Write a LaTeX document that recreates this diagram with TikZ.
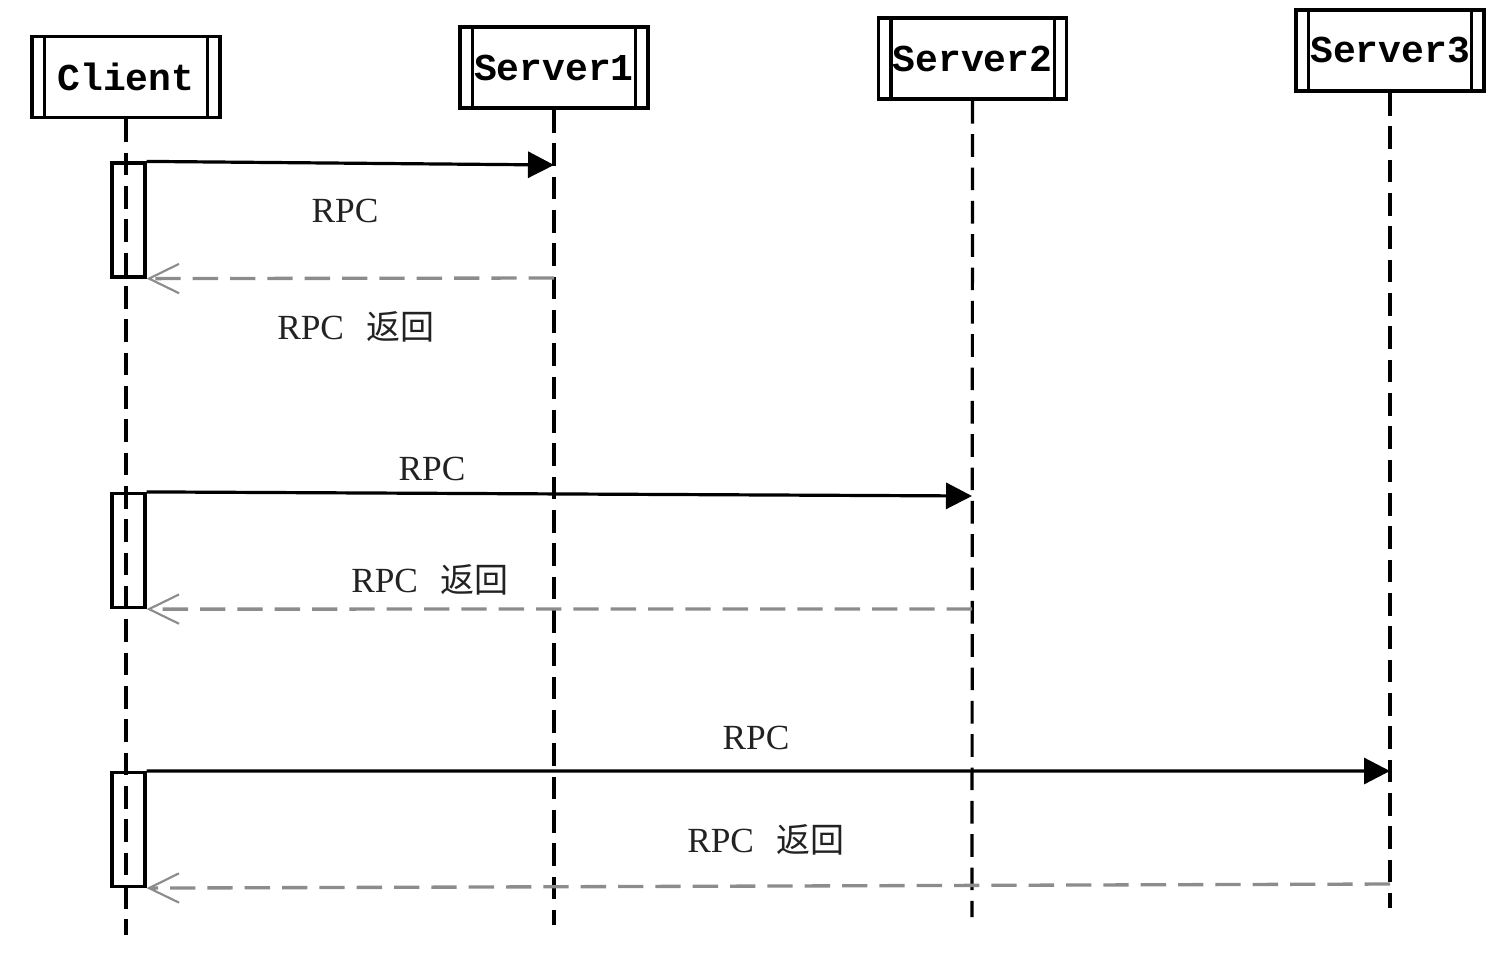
\documentclass[tikz,border=0pt]{standalone}
\usepackage{fontspec}
\setmainfont{Liberation Serif}
\newfontfamily\monofont{Liberation Mono}
\newfontfamily\cjk{Noto Sans CJK SC}
\usetikzlibrary{arrows.meta}
\definecolor{retgray}{HTML}{8C8C8C}
\definecolor{txt}{HTML}{222222}
\tikzset{
  actor/.style={draw=black, line width=2.6pt, minimum width=141pt, minimum height=61pt,
    inner sep=0pt, font=\monofont\bfseries\fontsize{28.5}{30}\selectfont},
  lifeline/.style={draw=black, line width=2.4pt, dash pattern=on 17pt off 8pt},
  actbox/.style={draw=black, line width=2.4pt, minimum width=24.75pt, minimum height=85.5pt, inner sep=0pt},
  callmsg/.style={draw=black, line width=2.4pt, -{Triangle[length=19.5pt, width=19.5pt]}},
  retmsg/.style={draw=retgray, line width=2.5pt, dash pattern=on 19pt off 9pt,
    -{Straight Barb[length=22.5pt, width=22pt, line width=1.6pt]}},
  msglabel/.style={text=txt, font=\fontsize{26.5}{29}\selectfont, inner sep=0pt}
}
\newcommand{\actorbars}[1]{%
  \draw[line width=2.6pt] ([xshift=10.5pt]#1.north west) -- ([xshift=10.5pt]#1.south west);
  \draw[line width=2.6pt] ([xshift=-10.5pt]#1.north east) -- ([xshift=-10.5pt]#1.south east);}
\newcommand{\rpcret}{RPC\hspace{17pt}{\cjk\fontsize{25.5}{28}\selectfont 返回}}
\begin{document}
\begin{tikzpicture}[x=0.75pt, y=-0.75pt]
\useasboundingbox (0,0) rectangle (1510,964);
% actors
\node[actor] (client) at (126,77) {Client};
\node[actor] (s1) at (554,67.5) {Server1};
\node[actor] (s2) at (972.5,58.5) {Server2};
\node[actor] (s3) at (1390,50.5) {Server3};
\actorbars{client}
\actorbars{s1}
\actorbars{s2}
\actorbars{s3}
% lifeline ends
\coordinate (cEnd) at (126,935);
\coordinate (s1End) at (554,925);
\coordinate (s2End) at (972,917);
\coordinate (s3End) at (1390,908);
% activation boxes
\node[actbox] (a1) at (128.5,220) {};
\node[actbox] (a2) at (128.5,550.5) {};
\node[actbox] (a3) at (128.5,829.5) {};
% lifelines
\draw[lifeline] (client.south) -- (cEnd);
\draw[lifeline] (s1.south) -- (s1End);
\draw[lifeline] (s2.south) -- (s2End);
\draw[lifeline] (s3.south) -- (s3End);
% message points on server lifelines
\coordinate (m1) at (554,165);
\coordinate (r1) at (554,278);
\coordinate (m2) at (972,496);
\coordinate (r2) at (972,609);
\coordinate (m3) at (1390,771);
\coordinate (r3) at (1390,884);
% messages
\draw[callmsg] (a1.north east) -- (m1);
\draw[retmsg] (r1) -- (a1.south east);
\draw[callmsg] (a2.north east) -- (m2);
\draw[retmsg] (r2) -- (a2.south east);
\draw[callmsg] (a3.north east) -- (m3);
\draw[retmsg] (r3) -- (a3.south east);
% labels
\node[msglabel] (l1) at (345,211) {RPC};
\node[msglabel] (l2) at (356,327) {\rpcret};
\node[msglabel] (l3) at (432,469) {RPC};
\node[msglabel] (l4) at (430,580) {\rpcret};
\node[msglabel] (l5) at (756,738) {RPC};
\node[msglabel] (l6) at (766,840) {\rpcret};
\end{tikzpicture}
\end{document}
